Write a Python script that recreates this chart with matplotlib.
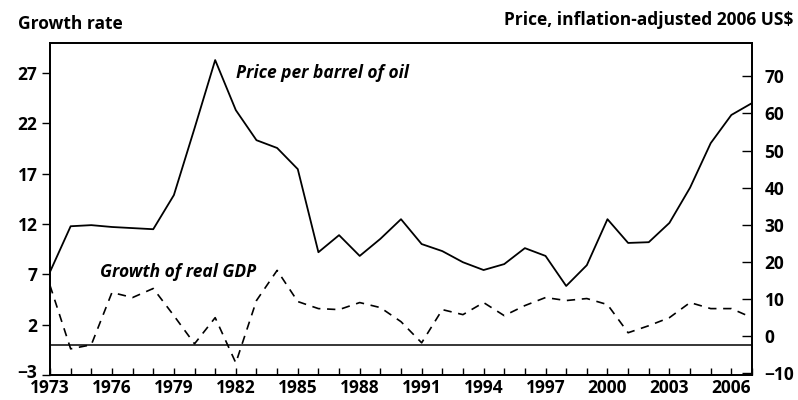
import matplotlib
matplotlib.use("Agg")
import matplotlib.pyplot as plt
import matplotlib.transforms as mtransforms
import numpy as np

plt.rcParams['font.family'] = ['Open Sans', 'DejaVu Sans']

years = list(range(1973, 2008))
oil_price = [17.3, 29.6, 29.9, 29.4, 29.1, 28.8, 38.0, 56.0, 74.4, 60.9,
             52.8, 50.7, 45.0, 22.6, 27.2, 21.6, 26.2, 31.5, 24.8, 22.9,
             19.9, 17.8, 19.4, 23.7, 21.6, 13.5, 19.1, 31.5, 25.1, 25.3,
             30.5, 40.0, 52.0, 59.6, 62.8]
gdp_growth = [5.9, -0.4, 0.0, 5.2, 4.7, 5.6, 2.9, 0.1, 2.7, -1.8,
              4.4, 7.4, 4.3, 3.6, 3.5, 4.2, 3.7, 2.3, 0.2, 3.5,
              3.0, 4.2, 2.9, 3.9, 4.7, 4.4, 4.6, 4.0, 1.2, 1.9,
              2.7, 4.2, 3.6, 3.6, 2.7]
left_ticks = [-3, 2, 7, 12, 17, 22, 27]
right_ticks = [-10, 0, 10, 20, 30, 40, 50, 60, 70]
x_label_years = list(range(1973, 2007, 3))

FS = 12.5
W = 'bold'

fig = plt.figure(figsize=(7.98, 4.0), dpi=100)
ax = fig.add_axes([50/798, 25/400, 702/798, 332/400])
ax2 = ax.twinx()

# growth (left axis)
ax.axhline(0, color='black', lw=1.1)
ax.plot(years, gdp_growth, color='black', lw=1.2, ls=(0, (5, 4)))
ax.set_ylim(-3, 30)
ax.set_xlim(1973, 2007)
ax.set_yticks(left_ticks)
ax.set_yticklabels(['\u22123'] + [str(t) for t in left_ticks[1:]])
ax.set_xticks(years, minor=True)
ax.set_xticks(x_label_years)
ax.set_xticklabels([str(y) for y in x_label_years])
ax.tick_params(axis='y', direction='out', length=6, width=1, pad=3, labelsize=FS)
ax.tick_params(axis='x', which='both', direction='in', length=5, width=1, pad=3, labelsize=FS)

# oil price (right axis)
ax2.plot(years, oil_price, color='black', lw=1.3)
ax2.set_ylim(-10.5, 79)
ax2.set_yticks(right_ticks)
ax2.set_yticklabels(['\u221210'] + [str(t) for t in right_ticks[1:]])
ax2.tick_params(axis='y', direction='in', length=7, width=1, pad=9, labelsize=FS)

for a in (ax, ax2):
    for s in a.spines.values():
        s.set_linewidth(1.3)
    for lab in a.get_xticklabels() + a.get_yticklabels():
        lab.set_fontweight(W)

# lift the lowest left label a little, as in the reference
low = ax.get_yticklabels()[0]
low.set_transform(low.get_transform() +
                  mtransforms.ScaledTranslation(0, 4/100, fig.dpi_scale_trans))

fig.text(18/798, 1 - 24/400, 'Growth rate', fontsize=FS, fontweight=W,
         ha='left', va='center')
fig.text(793/798, 1 - 20/400, 'Price, inflation-adjusted 2006 US$', fontsize=FS,
         fontweight=W, ha='right', va='center')
ax2.text(1982.0, 71.0, 'Price per barrel of oil', fontsize=FS, style='italic',
         fontweight=W, ha='left', va='center')
ax.text(1975.4, 7.2, 'Growth of real GDP', fontsize=FS, style='italic',
        fontweight=W, ha='left', va='center')

fig.savefig('out.png', dpi=100)
